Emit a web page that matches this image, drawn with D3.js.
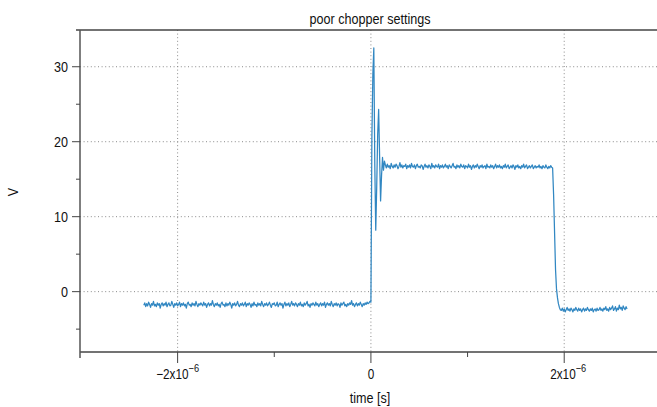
<!DOCTYPE html>
<html lang="en">
<head>
    <meta charset="UTF-8">
    <title>poor chopper settings</title>
    <script src="https://d3js.org/d3.v7.min.js"></script>
    <style>
        body { margin: 0; background: white; }
        svg { display: block; }
        text { font-family: "Liberation Sans", Arial, sans-serif; fill: #111; }
    </style>
</head>
<body>
<svg width="657" height="407"></svg>
<script>
// Scope trace: samples every 10 ns, first sample at -2.35 us
const sampleStart = -2.35e-6;
const sampleStep = 1e-8;

// before trigger (about -1.7 V)
const preTrigger = [
    -1.8,-1.5,-2.0,-1.6,-1.9,-1.4,-1.7,-2.1,-1.6,-1.8,-1.3,-1.9,-1.7,-2.0,-1.5,-1.8,-1.6,-2.2,-1.7,-1.5,
    -1.9,-1.6,-1.8,-1.4,-2.0,-1.7,-1.5,-1.9,-1.8,-1.3,-1.7,-2.1,-1.6,-1.8,-1.5,-1.9,-1.7,-1.4,-2.0,-1.6,
    -1.8,-1.5,-1.9,-1.7,-2.2,-1.6,-1.4,-1.8,-1.7,-2.0,-1.5,-1.8,-1.6,-1.9,-1.3,-1.7,-2.0,-1.6,-1.8,-1.5,
    -1.7,-1.9,-1.4,-1.8,-1.6,-2.1,-1.7,-1.5,-1.9,-1.6,-1.8,-1.2,-1.7,-2.0,-1.6,-1.8,-1.5,-1.9,-1.7,-2.1,
    -1.6,-1.4,-1.8,-1.7,-2.0,-1.5,-1.9,-1.6,-1.8,-1.4,-1.7,-2.2,-1.6,-1.8,-1.5,-1.9,-1.7,-1.3,-1.8,-2.0,
    -1.6,-1.8,-1.5,-1.9,-1.7,-1.4,-2.0,-1.6,-1.8,-1.5,-1.7,-2.1,-1.6,-1.9,-1.4,-1.8,-1.7,-2.0,-1.5,-1.8,
    -1.6,-1.9,-1.3,-1.7,-2.0,-1.6,-1.8,-1.5,-1.9,-1.7,-1.4,-1.8,-2.1,-1.6,-1.7,-1.5,-1.9,-1.8,-1.4,-2.0,
    -1.7,-1.5,-1.8,-1.6,-2.2,-1.7,-1.4,-1.9,-1.6,-1.8,-1.5,-2.0,-1.7,-1.3,-1.8,-1.6,-1.9,-1.5,-1.7,-2.0,
    -1.6,-1.8,-1.4,-1.9,-1.7,-2.0,-1.5,-1.8,-1.6,-1.3,-1.9,-1.7,-2.1,-1.6,-1.8,-1.5,-1.7,-1.9,-1.4,-1.8,
    -1.6,-2.0,-1.7,-1.5,-1.9,-1.6,-1.8,-1.4,-2.1,-1.7,-1.5,-1.8,-1.6,-1.9,-1.3,-1.7,-2.0,-1.6,-1.8,-1.5,
    -1.9,-1.6,-1.7,-2.1,-1.5,-1.8,-1.6,-1.4,-1.9,-1.7,-2.0,-1.6,-1.8,-1.5,-1.7,-1.2,-1.8,-1.6,-2.0,-1.7,
    -1.5,-1.9,-1.6,-1.8,-1.4,-1.7,-2.0,-1.6,-1.8,-1.5,-1.7,-1.4,-1.6,-1.5,-1.3,-1.4
];
// switching edge with ringing
const transient = [20.5,29.0,32.5,17.0,8.2,14.0,21.0,24.3,18.0,12.1,15.5,17.9,16.2,17.4];
// on level (about 16.7 V)
const plateau = [
    16.9,16.5,17.0,16.6,16.8,16.4,17.1,16.7,16.5,16.9,16.6,17.0,16.8,16.4,16.7,17.2,16.6,16.9,16.5,16.8,
    16.7,17.0,16.4,16.8,16.6,16.9,16.5,17.1,16.7,16.6,16.9,16.4,16.8,17.0,16.6,16.7,16.5,16.9,16.8,16.3,
    16.7,17.0,16.6,16.8,16.5,16.9,16.7,16.4,17.1,16.6,16.8,16.5,16.9,16.7,16.6,17.0,16.4,16.8,16.6,16.9,
    16.5,16.7,17.0,16.6,16.8,16.4,16.9,16.7,16.5,16.8,17.1,16.6,16.7,16.4,16.9,16.6,16.8,16.5,17.0,16.7,
    16.6,16.9,16.4,16.8,16.7,16.5,17.0,16.6,16.8,16.3,16.7,16.9,16.5,16.8,16.6,17.0,16.7,16.4,16.8,16.6,
    16.9,16.5,16.7,16.8,16.4,17.0,16.6,16.7,16.5,16.9,16.6,16.8,16.4,16.7,17.0,16.5,16.8,16.6,16.9,16.5,
    16.7,16.4,16.8,16.6,17.0,16.5,16.7,16.9,16.4,16.6,16.8,16.5,16.9,16.7,16.3,16.8,16.6,16.9,16.5,16.7,
    16.4,16.8,16.6,17.0,16.5,16.7,16.9,16.4,16.6,16.8,16.5,16.7,16.9,16.4,16.6,16.8,16.5,16.7,16.6,16.9,
    16.5,16.7,16.4,16.8,16.6,16.5,16.9,16.6,16.4,16.7,16.5,16.8,16.6,16.5
];
// falling edge
const fall = [13.0,8.0,3.0,0.4,-0.8,-1.6,-2.1,-2.4];
// off level (about -2.4 V)
const tail = [
    -2.5,-2.2,-2.6,-2.3,-2.7,-2.4,-2.1,-2.5,-2.3,-2.6,-2.2,-2.4,-2.7,-2.3,-2.5,-2.1,-2.4,-2.6,-2.2,-2.5,
    -2.3,-2.7,-2.4,-2.2,-2.6,-2.3,-2.5,-2.1,-2.4,-2.6,-2.3,-2.5,-2.2,-2.7,-2.4,-2.3,-2.6,-2.2,-2.5,-2.4,
    -2.1,-2.5,-2.3,-2.6,-2.2,-2.4,-2.0,-2.5,-2.3,-2.6,-2.1,-2.4,-2.2,-1.9,-2.5,-2.3,-2.0,-2.6,-2.2,-2.4,
    -1.8,-2.3,-2.1,-2.5,-1.9,-2.2,-2.4,-2.0,-2.3
];

const yMajor = [0, 10, 20, 30];
const yMinor = [-5, 5, 15, 25];
const xMajor = [-2e-6, 0, 2e-6];
const xMinor = [-1e-6, 1e-6];
const xLabels = [["\u22122x10", "\u22126"], ["0", ""], ["2x10", "\u22126"]];

const volts = preTrigger.concat(transient, plateau, fall, tail);
const trace = volts.map((v, i) => ({t: sampleStart + i * sampleStep, v: v}));

const plotLeft = 80, plotRight = 657, plotTop = 30, plotBottom = 352;
const x = d3.scaleLinear().domain([-3.01e-6, 2.96e-6]).range([plotLeft, plotRight]);
const y = d3.scaleLinear().domain([-8.05, 34.9]).range([plotBottom, plotTop]);

// the reference uses a narrow sans, so squeeze text horizontally
const squeeze = 0.84;
function place(px, py, rot) {
    return "translate(" + px + "," + py + ")" + (rot ? " rotate(" + rot + ")" : "") + " scale(" + squeeze + ",1)";
}

const svg = d3.select("svg");

// grid
svg.append("g").selectAll("line")
    .data(yMajor).enter().append("line")
    .attr("x1", plotLeft).attr("x2", plotRight)
    .attr("y1", d => y(d)).attr("y2", d => y(d))
    .attr("stroke", "#8a8a8a").attr("stroke-dasharray", "1,2.6");
svg.append("g").selectAll("line")
    .data(xMajor).enter().append("line")
    .attr("x1", d => x(d)).attr("x2", d => x(d))
    .attr("y1", plotTop).attr("y2", plotBottom)
    .attr("stroke", "#8a8a8a").attr("stroke-dasharray", "1,2.6");

// trace
svg.append("path")
    .datum(trace)
    .attr("fill", "none")
    .attr("stroke", "#3187c2")
    .attr("stroke-width", 1.25)
    .attr("stroke-linejoin", "round")
    .attr("d", d3.line().x(d => x(d.t)).y(d => y(d.v)));

// frame
svg.append("line").attr("x1", plotLeft - 4).attr("x2", plotRight).attr("y1", plotTop).attr("y2", plotTop)
    .attr("stroke", "#444").attr("stroke-width", 1.5);
svg.append("line").attr("x1", plotLeft).attr("x2", plotRight).attr("y1", plotBottom).attr("y2", plotBottom)
    .attr("stroke", "#444").attr("stroke-width", 1.5);
svg.append("line").attr("x1", plotLeft).attr("x2", plotLeft).attr("y1", plotTop).attr("y2", plotBottom + 6)
    .attr("stroke", "#555").attr("stroke-width", 1.5);

// y axis ticks
svg.append("g").selectAll("line")
    .data(yMajor).enter().append("line")
    .attr("x1", plotLeft - 8).attr("x2", plotLeft)
    .attr("y1", d => y(d)).attr("y2", d => y(d))
    .attr("stroke", "#444");
svg.append("g").selectAll("line")
    .data(yMinor).enter().append("line")
    .attr("x1", plotLeft - 4).attr("x2", plotLeft)
    .attr("y1", d => y(d)).attr("y2", d => y(d))
    .attr("stroke", "#444");
svg.append("g").selectAll("text")
    .data(yMajor).enter().append("text")
    .attr("transform", d => place(plotLeft - 12, y(d) + 5.5))
    .attr("text-anchor", "end")
    .style("font-size", "15px")
    .text(d => d);

// x axis ticks
svg.append("g").selectAll("line")
    .data(xMajor).enter().append("line")
    .attr("x1", d => x(d)).attr("x2", d => x(d))
    .attr("y1", plotBottom).attr("y2", plotBottom + 11)
    .attr("stroke", "#444");
svg.append("g").selectAll("line")
    .data(xMinor).enter().append("line")
    .attr("x1", d => x(d)).attr("x2", d => x(d))
    .attr("y1", plotBottom).attr("y2", plotBottom + 5)
    .attr("stroke", "#444");
const xl = svg.append("g").selectAll("text")
    .data(xMajor).enter().append("text")
    .attr("transform", (d, i) => place(x(d) + (i === 2 ? 4 : 0), 379))
    .attr("text-anchor", "middle")
    .style("font-size", "14px");
xl.append("tspan").text((d, i) => xLabels[i][0]);
xl.append("tspan")
    .attr("dy", -7)
    .style("font-size", "11px")
    .text((d, i) => xLabels[i][1]);

// titles
svg.append("text")
    .attr("transform", place(370, 24))
    .attr("text-anchor", "middle")
    .style("font-size", "15px")
    .text("poor chopper settings");
svg.append("text")
    .attr("transform", place(370, 403))
    .attr("text-anchor", "middle")
    .style("font-size", "15px")
    .text("time [s]");
svg.append("text")
    .attr("transform", place(18, 192, -90))
    .attr("text-anchor", "middle")
    .style("font-size", "15px")
    .text("V");
</script>
</body>
</html>
